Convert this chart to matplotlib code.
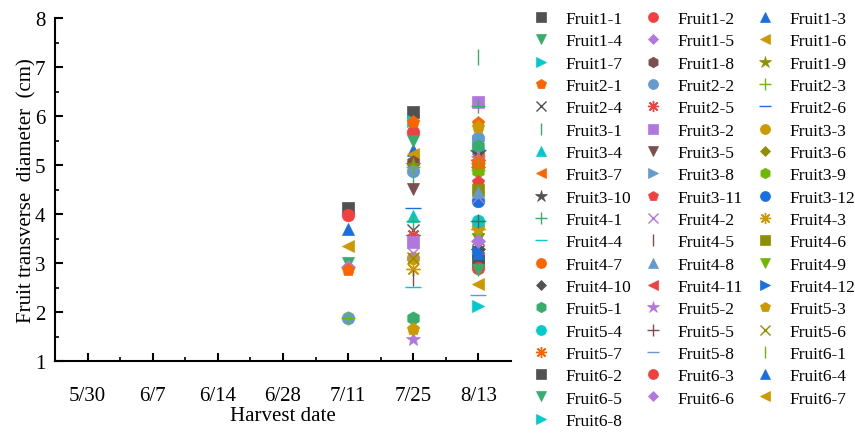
import numpy as np
import matplotlib
matplotlib.use("Agg")
import matplotlib.pyplot as plt

plt.rcParams['font.family'] = ['Liberation Serif', 'DejaVu Serif']

dates = ["5/30", "6/7", "6/14", "6/28", "7/11", "7/25", "8/13"]
nan = np.nan

labels = ["Fruit1-1", "Fruit1-2", "Fruit1-3", "Fruit1-4", "Fruit1-5", "Fruit1-6",
          "Fruit1-7", "Fruit1-8", "Fruit1-9",
          "Fruit2-1", "Fruit2-2", "Fruit2-3", "Fruit2-4", "Fruit2-5", "Fruit2-6",
          "Fruit3-1", "Fruit3-2", "Fruit3-3", "Fruit3-4", "Fruit3-5", "Fruit3-6",
          "Fruit3-7", "Fruit3-8", "Fruit3-9", "Fruit3-10", "Fruit3-11", "Fruit3-12",
          "Fruit4-1", "Fruit4-2", "Fruit4-3", "Fruit4-4", "Fruit4-5", "Fruit4-6",
          "Fruit4-7", "Fruit4-8", "Fruit4-9", "Fruit4-10", "Fruit4-11", "Fruit4-12",
          "Fruit5-1", "Fruit5-2", "Fruit5-3", "Fruit5-4", "Fruit5-5", "Fruit5-6",
          "Fruit5-7", "Fruit5-8",
          "Fruit6-1", "Fruit6-2", "Fruit6-3", "Fruit6-4", "Fruit6-5", "Fruit6-6",
          "Fruit6-7", "Fruit6-8"]

# transverse diameter (cm) per fruit, one list per harvest date
d_0711 = [4.13, 3.97, 3.70, 3.00, 2.92, 3.35, nan, nan, nan,
          2.85, 1.87, 1.87, nan, nan, nan,
          nan, nan, nan, nan, nan, nan, nan, nan, nan, nan, nan, nan,
          nan, nan, nan, nan, nan, nan, nan, nan, nan, nan, nan, nan,
          nan, nan, nan, nan, nan, nan, nan, nan,
          nan, nan, nan, nan, nan, nan, nan, nan]
d_0725 = [6.09, 5.68, 5.30, 5.48, 5.05, 5.22, 5.90, 5.07, 5.00,
          5.88, 4.88, 4.95, 3.68, 3.58, 4.13,
          4.62, 3.42, 3.10, 3.95, 4.52, nan, nan, nan, nan, nan, nan, nan,
          3.85, 3.20, 2.88, 2.52, 2.70, nan, nan, nan, nan, nan, nan, nan,
          1.87, 1.45, 1.66, nan, nan, 3.10, nan, nan,
          nan, nan, nan, nan, nan, nan, nan, nan]
d_0813 = [nan, nan, 5.35, nan, nan, nan, nan, nan, 5.00,
          5.85, 5.55, 4.90, 3.25, 5.10, 5.30,
          7.20, 6.29, 3.75, 5.45, nan, 4.95, 5.12, 5.50, 4.87, 5.25, 4.66, 4.27,
          6.20, 4.35, 3.70, 3.85, nan, 4.50, 5.05, 4.45, 3.50, 3.28, 3.10, 3.22,
          5.38, 5.15, 5.78, 3.85, 3.85, 3.50, 5.10, 2.35,
          4.98, 3.05, 2.90, 3.20, 2.85, 3.45, 2.57, 2.13]

# Origin-like default cycles
colors = ["#515151", "#F14040", "#1A6FDF", "#37AD6B", "#B177DE", "#CC9900",
          "#00CBCC", "#7D4E4E", "#8E8E00", "#FB6501", "#6699CC", "#6FB802"]
markers = ['s', 'o', '^', 'v', 'D', '<', '>', 'h', '*', 'p', 'o', '+', 'x',
           (8, 2, 0), '_', '|']
msize = {'D': 7, '*': 11, 'h': 9.5, 'p': 9.5, '+': 10, 'x': 9,
         (8, 2, 0): 10, '_': 11, '|': 11}

fig = plt.figure(figsize=(8.55, 4.39), dpi=100)
ax = fig.add_axes([55/855, 1-362/439, (511-55)/855, (362-19)/439])

xpos = np.arange(1, len(dates)+1)
vals = np.array([d_0711, d_0725, d_0813]).T
handles = []
for i, lab in enumerate(labels):
    m = markers[i % len(markers)]
    c = colors[i % len(colors)]
    ms = msize.get(m, 9)
    y = np.concatenate([[nan]*4, vals[i]])
    if m in ['+', 'x', (8, 2, 0), '_', '|']:
        h, = ax.plot(xpos, y, ls='none', marker=m, ms=ms, mec=c, mew=1.0,
                     color=c, label=lab)
    else:
        h, = ax.plot(xpos, y, ls='none', marker=m, ms=ms, mfc=c, mec=c,
                     mew=0.5, label=lab)
    handles.append(h)

ax.set_xlim(0.5, 7.5)
ax.set_ylim(1, 8)
ax.set_xticks(xpos)
ax.set_xticklabels(dates)
ax.set_xticks(xpos[:-1] + 0.5, minor=True)
ax.set_yticks(range(1, 9))
ax.set_yticks(np.arange(1.5, 8, 1), minor=True)
for s in ['top', 'right']:
    ax.spines[s].set_visible(False)
for s in ['left', 'bottom']:
    ax.spines[s].set_linewidth(1.5)
ax.tick_params(which='major', direction='in', length=6, width=1.5, labelsize=15)
ax.tick_params(which='minor', direction='in', length=3, width=1.2)
ax.tick_params(axis='x', which='major', pad=18)
ax.tick_params(axis='y', which='major', pad=7)
ax.set_xlabel("Harvest date", fontsize=15, labelpad=1)
ax.set_ylabel("Fruit transverse  diameter  (cm)", fontsize=15, labelpad=-1)

order = handles[0::3] + handles[1::3] + handles[2::3]
fig.legend(order, [h.get_label() for h in order], loc='upper left',
           bbox_to_anchor=(532/855, 1-12/439), ncol=3, frameon=False,
           fontsize=12.5, markerscale=0.8, handlelength=1.0,
           handletextpad=0.9, columnspacing=0.8, labelspacing=0.355,
           borderaxespad=0, borderpad=0)

fig.savefig("out.png", dpi=100)
